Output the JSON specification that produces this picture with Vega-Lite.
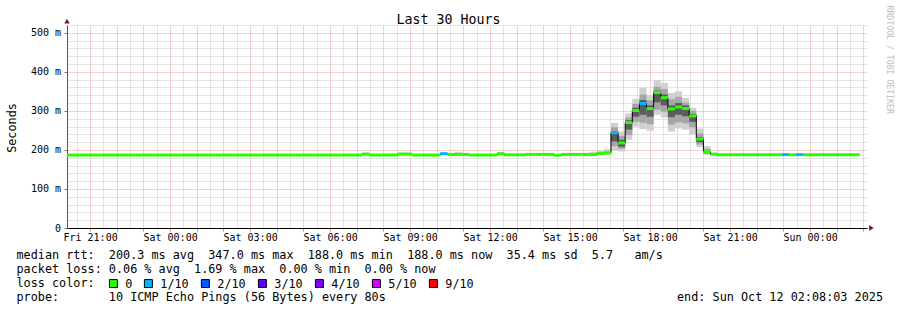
{
  "$schema": "https://vega.github.io/schema/vega-lite/v6.json",
  "width": 800,
  "height": 203,
  "autosize": {"type": "none"},
  "padding": {"left": 67, "top": 25, "right": 30, "bottom": 82},
  "background": "#ffffff",
  "config": {"view": {"stroke": null}, "font": "DejaVu Sans Mono"},
  "title": {
    "text": "Last 30 Hours",
    "font": "DejaVu Sans Mono",
    "fontSize": 13.3,
    "fontWeight": "normal",
    "color": "#000000",
    "anchor": "middle",
    "frame": "group",
    "dx": -18.5,
    "baseline": "alphabetic",
    "offset": -32
  },
  "datasets": {
    "median": [
      {"t0": "2025-10-10T20:08:03", "t1": "2025-10-11T07:12:00", "rtt": 187, "loss": "0"},
      {"t0": "2025-10-11T07:12:00", "t1": "2025-10-11T07:28:00", "rtt": 189.5, "loss": "0"},
      {"t0": "2025-10-11T07:28:00", "t1": "2025-10-11T08:32:00", "rtt": 187, "loss": "0"},
      {"t0": "2025-10-11T08:32:00", "t1": "2025-10-11T09:04:00", "rtt": 189.5, "loss": "0"},
      {"t0": "2025-10-11T09:04:00", "t1": "2025-10-11T10:08:00", "rtt": 187, "loss": "0"},
      {"t0": "2025-10-11T10:08:00", "t1": "2025-10-11T10:24:00", "rtt": 190.5, "loss": "1/10"},
      {"t0": "2025-10-11T10:24:00", "t1": "2025-10-11T11:12:00", "rtt": 188.5, "loss": "0"},
      {"t0": "2025-10-11T11:12:00", "t1": "2025-10-11T12:16:00", "rtt": 187, "loss": "0"},
      {"t0": "2025-10-11T12:16:00", "t1": "2025-10-11T12:32:00", "rtt": 190.5, "loss": "0"},
      {"t0": "2025-10-11T12:32:00", "t1": "2025-10-11T13:20:00", "rtt": 187.5, "loss": "0"},
      {"t0": "2025-10-11T13:20:00", "t1": "2025-10-11T14:24:00", "rtt": 188.5, "loss": "0"},
      {"t0": "2025-10-11T14:24:00", "t1": "2025-10-11T14:40:00", "rtt": 186.5, "loss": "0"},
      {"t0": "2025-10-11T14:40:00", "t1": "2025-10-11T15:44:00", "rtt": 188.5, "loss": "0"},
      {"t0": "2025-10-11T15:44:00", "t1": "2025-10-11T16:00:00", "rtt": 188, "loss": "0"},
      {"t0": "2025-10-11T16:00:00", "t1": "2025-10-11T16:16:00", "rtt": 191, "loss": "0"},
      {"t0": "2025-10-11T16:16:00", "t1": "2025-10-11T16:32:00", "rtt": 192, "loss": "0"},
      {"t0": "2025-10-11T16:32:00", "t1": "2025-10-11T16:48:00", "rtt": 244, "loss": "1/10"},
      {"t0": "2025-10-11T16:48:00", "t1": "2025-10-11T17:04:00", "rtt": 218, "loss": "0"},
      {"t0": "2025-10-11T17:04:00", "t1": "2025-10-11T17:20:00", "rtt": 270, "loss": "0"},
      {"t0": "2025-10-11T17:20:00", "t1": "2025-10-11T17:36:00", "rtt": 301, "loss": "0"},
      {"t0": "2025-10-11T17:36:00", "t1": "2025-10-11T17:52:00", "rtt": 319, "loss": "1/10"},
      {"t0": "2025-10-11T17:52:00", "t1": "2025-10-11T18:08:00", "rtt": 306, "loss": "0"},
      {"t0": "2025-10-11T18:08:00", "t1": "2025-10-11T18:24:00", "rtt": 347, "loss": "0"},
      {"t0": "2025-10-11T18:24:00", "t1": "2025-10-11T18:40:00", "rtt": 334, "loss": "0"},
      {"t0": "2025-10-11T18:40:00", "t1": "2025-10-11T18:56:00", "rtt": 305, "loss": "0"},
      {"t0": "2025-10-11T18:56:00", "t1": "2025-10-11T19:12:00", "rtt": 310, "loss": "0"},
      {"t0": "2025-10-11T19:12:00", "t1": "2025-10-11T19:28:00", "rtt": 306, "loss": "0"},
      {"t0": "2025-10-11T19:28:00", "t1": "2025-10-11T19:44:00", "rtt": 287, "loss": "0"},
      {"t0": "2025-10-11T19:44:00", "t1": "2025-10-11T20:00:00", "rtt": 228, "loss": "0"},
      {"t0": "2025-10-11T20:00:00", "t1": "2025-10-11T20:16:00", "rtt": 195, "loss": "0"},
      {"t0": "2025-10-11T20:16:00", "t1": "2025-10-11T20:32:00", "rtt": 189, "loss": "0"},
      {"t0": "2025-10-11T20:32:00", "t1": "2025-10-11T22:56:00", "rtt": 187.5, "loss": "0"},
      {"t0": "2025-10-11T22:56:00", "t1": "2025-10-11T23:12:00", "rtt": 188, "loss": "1/10"},
      {"t0": "2025-10-11T23:12:00", "t1": "2025-10-11T23:28:00", "rtt": 187.5, "loss": "0"},
      {"t0": "2025-10-11T23:28:00", "t1": "2025-10-11T23:44:00", "rtt": 188, "loss": "1/10"},
      {"t0": "2025-10-11T23:44:00", "t1": "2025-10-12T01:52:00", "rtt": 187.5, "loss": "0"}
    ],
    "smoke": [
      {"t0": "2025-10-11T10:40:00", "t1": "2025-10-11T10:56:00", "lo": 188, "hi": 195, "band": "outer"},
      {"t0": "2025-10-11T15:44:00", "t1": "2025-10-11T16:00:00", "lo": 188, "hi": 195, "band": "outer"},
      {"t0": "2025-10-11T16:00:00", "t1": "2025-10-11T16:16:00", "lo": 188, "hi": 198, "band": "outer"},
      {"t0": "2025-10-11T16:16:00", "t1": "2025-10-11T16:32:00", "lo": 189, "hi": 202, "band": "outer"},
      {"t0": "2025-10-11T16:32:00", "t1": "2025-10-11T16:48:00", "lo": 198, "hi": 269, "band": "outer"},
      {"t0": "2025-10-11T16:48:00", "t1": "2025-10-11T17:04:00", "lo": 196, "hi": 247, "band": "outer"},
      {"t0": "2025-10-11T17:04:00", "t1": "2025-10-11T17:20:00", "lo": 226, "hi": 294, "band": "outer"},
      {"t0": "2025-10-11T17:20:00", "t1": "2025-10-11T17:36:00", "lo": 260, "hi": 331, "band": "outer"},
      {"t0": "2025-10-11T17:36:00", "t1": "2025-10-11T17:52:00", "lo": 253, "hi": 359, "band": "outer"},
      {"t0": "2025-10-11T17:52:00", "t1": "2025-10-11T18:08:00", "lo": 249, "hi": 340, "band": "outer"},
      {"t0": "2025-10-11T18:08:00", "t1": "2025-10-11T18:24:00", "lo": 290, "hi": 379, "band": "outer"},
      {"t0": "2025-10-11T18:24:00", "t1": "2025-10-11T18:40:00", "lo": 283, "hi": 372, "band": "outer"},
      {"t0": "2025-10-11T18:40:00", "t1": "2025-10-11T18:56:00", "lo": 247, "hi": 346, "band": "outer"},
      {"t0": "2025-10-11T18:56:00", "t1": "2025-10-11T19:12:00", "lo": 255, "hi": 350, "band": "outer"},
      {"t0": "2025-10-11T19:12:00", "t1": "2025-10-11T19:28:00", "lo": 252, "hi": 333, "band": "outer"},
      {"t0": "2025-10-11T19:28:00", "t1": "2025-10-11T19:44:00", "lo": 240, "hi": 308, "band": "outer"},
      {"t0": "2025-10-11T19:44:00", "t1": "2025-10-11T20:00:00", "lo": 207, "hi": 255, "band": "outer"},
      {"t0": "2025-10-11T20:00:00", "t1": "2025-10-11T20:16:00", "lo": 187, "hi": 210, "band": "outer"},
      {"t0": "2025-10-11T20:16:00", "t1": "2025-10-11T20:32:00", "lo": 187, "hi": 193, "band": "outer"},
      {"t0": "2025-10-11T16:16:00", "t1": "2025-10-11T16:32:00", "lo": 190, "hi": 196, "band": "middle"},
      {"t0": "2025-10-11T16:32:00", "t1": "2025-10-11T16:48:00", "lo": 210, "hi": 258, "band": "middle"},
      {"t0": "2025-10-11T16:48:00", "t1": "2025-10-11T17:04:00", "lo": 203, "hi": 236, "band": "middle"},
      {"t0": "2025-10-11T17:04:00", "t1": "2025-10-11T17:20:00", "lo": 238, "hi": 283, "band": "middle"},
      {"t0": "2025-10-11T17:20:00", "t1": "2025-10-11T17:36:00", "lo": 272, "hi": 318, "band": "middle"},
      {"t0": "2025-10-11T17:36:00", "t1": "2025-10-11T17:52:00", "lo": 270, "hi": 342, "band": "middle"},
      {"t0": "2025-10-11T17:52:00", "t1": "2025-10-11T18:08:00", "lo": 266, "hi": 327, "band": "middle"},
      {"t0": "2025-10-11T18:08:00", "t1": "2025-10-11T18:24:00", "lo": 303, "hi": 362, "band": "middle"},
      {"t0": "2025-10-11T18:24:00", "t1": "2025-10-11T18:40:00", "lo": 298, "hi": 356, "band": "middle"},
      {"t0": "2025-10-11T18:40:00", "t1": "2025-10-11T18:56:00", "lo": 265, "hi": 330, "band": "middle"},
      {"t0": "2025-10-11T18:56:00", "t1": "2025-10-11T19:12:00", "lo": 271, "hi": 336, "band": "middle"},
      {"t0": "2025-10-11T19:12:00", "t1": "2025-10-11T19:28:00", "lo": 268, "hi": 321, "band": "middle"},
      {"t0": "2025-10-11T19:28:00", "t1": "2025-10-11T19:44:00", "lo": 258, "hi": 300, "band": "middle"},
      {"t0": "2025-10-11T19:44:00", "t1": "2025-10-11T20:00:00", "lo": 214, "hi": 242, "band": "middle"},
      {"t0": "2025-10-11T20:00:00", "t1": "2025-10-11T20:16:00", "lo": 190, "hi": 203, "band": "middle"},
      {"t0": "2025-10-11T16:32:00", "t1": "2025-10-11T16:48:00", "lo": 222, "hi": 248, "band": "inner"},
      {"t0": "2025-10-11T16:48:00", "t1": "2025-10-11T17:04:00", "lo": 208, "hi": 226, "band": "inner"},
      {"t0": "2025-10-11T17:04:00", "t1": "2025-10-11T17:20:00", "lo": 252, "hi": 276, "band": "inner"},
      {"t0": "2025-10-11T17:20:00", "t1": "2025-10-11T17:36:00", "lo": 285, "hi": 308, "band": "inner"},
      {"t0": "2025-10-11T17:36:00", "t1": "2025-10-11T17:52:00", "lo": 290, "hi": 328, "band": "inner"},
      {"t0": "2025-10-11T17:52:00", "t1": "2025-10-11T18:08:00", "lo": 285, "hi": 314, "band": "inner"},
      {"t0": "2025-10-11T18:08:00", "t1": "2025-10-11T18:24:00", "lo": 322, "hi": 352, "band": "inner"},
      {"t0": "2025-10-11T18:24:00", "t1": "2025-10-11T18:40:00", "lo": 314, "hi": 342, "band": "inner"},
      {"t0": "2025-10-11T18:40:00", "t1": "2025-10-11T18:56:00", "lo": 284, "hi": 314, "band": "inner"},
      {"t0": "2025-10-11T18:56:00", "t1": "2025-10-11T19:12:00", "lo": 290, "hi": 320, "band": "inner"},
      {"t0": "2025-10-11T19:12:00", "t1": "2025-10-11T19:28:00", "lo": 286, "hi": 314, "band": "inner"},
      {"t0": "2025-10-11T19:28:00", "t1": "2025-10-11T19:44:00", "lo": 272, "hi": 292, "band": "inner"},
      {"t0": "2025-10-11T19:44:00", "t1": "2025-10-11T20:00:00", "lo": 220, "hi": 233, "band": "inner"}
    ]
  },
  "layer": [
    {
      "data": {"name": "smoke"},
      "mark": {"type": "rect"},
      "encoding": {
        "x": {
          "field": "t0",
          "type": "temporal",
          "scale": {
            "domain": [
              {"year": 2025, "month": 10, "date": 10, "hours": 20, "minutes": 8, "seconds": 3},
              {"year": 2025, "month": 10, "date": 12, "hours": 2, "minutes": 8, "seconds": 3}
            ],
            "nice": false
          },
          "axis": {
            "orient": "bottom",
            "values": [
              {"year": 2025, "month": 10, "date": 10, "hours": 21},
              {"year": 2025, "month": 10, "date": 10, "hours": 22},
              {"year": 2025, "month": 10, "date": 10, "hours": 23},
              {"year": 2025, "month": 10, "date": 11, "hours": 0},
              {"year": 2025, "month": 10, "date": 11, "hours": 1},
              {"year": 2025, "month": 10, "date": 11, "hours": 2},
              {"year": 2025, "month": 10, "date": 11, "hours": 3},
              {"year": 2025, "month": 10, "date": 11, "hours": 4},
              {"year": 2025, "month": 10, "date": 11, "hours": 5},
              {"year": 2025, "month": 10, "date": 11, "hours": 6},
              {"year": 2025, "month": 10, "date": 11, "hours": 7},
              {"year": 2025, "month": 10, "date": 11, "hours": 8},
              {"year": 2025, "month": 10, "date": 11, "hours": 9},
              {"year": 2025, "month": 10, "date": 11, "hours": 10},
              {"year": 2025, "month": 10, "date": 11, "hours": 11},
              {"year": 2025, "month": 10, "date": 11, "hours": 12},
              {"year": 2025, "month": 10, "date": 11, "hours": 13},
              {"year": 2025, "month": 10, "date": 11, "hours": 14},
              {"year": 2025, "month": 10, "date": 11, "hours": 15},
              {"year": 2025, "month": 10, "date": 11, "hours": 16},
              {"year": 2025, "month": 10, "date": 11, "hours": 17},
              {"year": 2025, "month": 10, "date": 11, "hours": 18},
              {"year": 2025, "month": 10, "date": 11, "hours": 19},
              {"year": 2025, "month": 10, "date": 11, "hours": 20},
              {"year": 2025, "month": 10, "date": 11, "hours": 21},
              {"year": 2025, "month": 10, "date": 11, "hours": 22},
              {"year": 2025, "month": 10, "date": 11, "hours": 23},
              {"year": 2025, "month": 10, "date": 12, "hours": 0},
              {"year": 2025, "month": 10, "date": 12, "hours": 1},
              {"year": 2025, "month": 10, "date": 12, "hours": 2}
            ],
            "labelExpr": "hours(datum.value) % 3 == 0 ? timeFormat(datum.value, '%a %H:%M') : ''",
            "labelOverlap": false,
            "labelFlush": false,
            "labelBound": false,
            "labelFont": "DejaVu Sans Mono",
            "labelFontSize": 10,
            "labelColor": "#000000",
            "labelPadding": 1,
            "labelBaseline": "top",
            "labelAngle": 0,
            "grid": true,
            "gridColor": "#f2a0a0",
            "gridDash": [1, 1],
            "gridWidth": 1,
            "gridOpacity": 1,
            "ticks": true,
            "tickColor": "#e08080",
            "tickSize": 3,
            "tickWidth": 1,
            "domain": true,
            "domainColor": "#000000",
            "domainWidth": 1,
            "title": [
              "median rtt:\u00a0\u00a0200.3 ms avg\u00a0\u00a0347.0 ms max\u00a0\u00a0188.0 ms min\u00a0\u00a0188.0 ms now\u00a0\u00a035.4 ms sd\u00a0\u00a05.7\u00a0\u00a0\u00a0am/s",
              "packet loss: 0.06 % avg\u00a0\u00a01.69 % max\u00a0\u00a00.00 % min\u00a0\u00a00.00 % now",
              "loss color:",
              "probe:\u00a0\u00a0\u00a0\u00a0\u00a0\u00a0\u00a010 ICMP Echo Pings (56 Bytes) every 80s\u00a0\u00a0\u00a0\u00a0\u00a0\u00a0\u00a0\u00a0\u00a0\u00a0\u00a0\u00a0\u00a0\u00a0\u00a0\u00a0\u00a0\u00a0\u00a0\u00a0\u00a0\u00a0\u00a0\u00a0\u00a0\u00a0\u00a0\u00a0\u00a0\u00a0\u00a0\u00a0\u00a0\u00a0\u00a0\u00a0\u00a0\u00a0\u00a0\u00a0\u00a0end: Sun Oct 12 02:08:03 2025"
            ],
            "titleFont": "DejaVu Sans Mono",
            "titleFontSize": 11.8,
            "titleFontWeight": "normal",
            "titleColor": "#000000",
            "titleAlign": "left",
            "titleBaseline": "alphabetic",
            "titleAngle": 0,
            "titleX": -51,
            "titleY": 30.5,
            "titleLineHeight": 14
          }
        },
        "x2": {"field": "t1"},
        "y": {
          "field": "lo",
          "type": "quantitative",
          "scale": {"domain": [0, 520], "nice": false, "zero": false},
          "axis": {
            "orient": "left",
            "values": [0, 100, 200, 300, 400, 500],
            "labelExpr": "datum.value == 0 ? '0\u00a0\u00a0' : datum.value + ' m'",
            "labelFont": "DejaVu Sans Mono",
            "labelFontSize": 10,
            "labelColor": "#000000",
            "labelPadding": 3.5,
            "labelBaseline": "middle",
            "grid": true,
            "gridColor": "#f2a0a0",
            "gridDash": [1, 1],
            "gridWidth": 1,
            "gridOpacity": 1,
            "ticks": true,
            "tickColor": "#777777",
            "tickSize": 3,
            "domain": true,
            "domainColor": "#555555",
            "title": "Seconds",
            "titleFont": "DejaVu Sans Mono",
            "titleFontSize": 11.8,
            "titleFontWeight": "normal",
            "titleColor": "#000000",
            "titleAngle": -90,
            "titleAlign": "center",
            "titleBaseline": "alphabetic",
            "titleX": -52,
            "titleY": 102.5
          }
        },
        "y2": {"field": "hi"},
        "fill": {
          "field": "band",
          "type": "nominal",
          "scale": {"domain": ["outer", "middle", "inner"], "range": ["#d0d0d0", "#a6a6a6", "#5c5c5c"]},
          "legend": null
        }
      }
    },
    {
      "data": {"name": "median"},
      "mark": {"type": "line", "interpolate": "step-after", "color": "#000000", "strokeWidth": 1},
      "encoding": {
        "x": {
          "field": "t0",
          "type": "temporal",
          "axis": {
            "orient": "top",
            "values": [
              {"year": 2025, "month": 10, "date": 10, "hours": 20, "minutes": 30},
              {"year": 2025, "month": 10, "date": 10, "hours": 21, "minutes": 30},
              {"year": 2025, "month": 10, "date": 10, "hours": 22, "minutes": 30},
              {"year": 2025, "month": 10, "date": 10, "hours": 23, "minutes": 30},
              {"year": 2025, "month": 10, "date": 11, "hours": 0, "minutes": 30},
              {"year": 2025, "month": 10, "date": 11, "hours": 1, "minutes": 30},
              {"year": 2025, "month": 10, "date": 11, "hours": 2, "minutes": 30},
              {"year": 2025, "month": 10, "date": 11, "hours": 3, "minutes": 30},
              {"year": 2025, "month": 10, "date": 11, "hours": 4, "minutes": 30},
              {"year": 2025, "month": 10, "date": 11, "hours": 5, "minutes": 30},
              {"year": 2025, "month": 10, "date": 11, "hours": 6, "minutes": 30},
              {"year": 2025, "month": 10, "date": 11, "hours": 7, "minutes": 30},
              {"year": 2025, "month": 10, "date": 11, "hours": 8, "minutes": 30},
              {"year": 2025, "month": 10, "date": 11, "hours": 9, "minutes": 30},
              {"year": 2025, "month": 10, "date": 11, "hours": 10, "minutes": 30},
              {"year": 2025, "month": 10, "date": 11, "hours": 11, "minutes": 30},
              {"year": 2025, "month": 10, "date": 11, "hours": 12, "minutes": 30},
              {"year": 2025, "month": 10, "date": 11, "hours": 13, "minutes": 30},
              {"year": 2025, "month": 10, "date": 11, "hours": 14, "minutes": 30},
              {"year": 2025, "month": 10, "date": 11, "hours": 15, "minutes": 30},
              {"year": 2025, "month": 10, "date": 11, "hours": 16, "minutes": 30},
              {"year": 2025, "month": 10, "date": 11, "hours": 17, "minutes": 30},
              {"year": 2025, "month": 10, "date": 11, "hours": 18, "minutes": 30},
              {"year": 2025, "month": 10, "date": 11, "hours": 19, "minutes": 30},
              {"year": 2025, "month": 10, "date": 11, "hours": 20, "minutes": 30},
              {"year": 2025, "month": 10, "date": 11, "hours": 21, "minutes": 30},
              {"year": 2025, "month": 10, "date": 11, "hours": 22, "minutes": 30},
              {"year": 2025, "month": 10, "date": 11, "hours": 23, "minutes": 30},
              {"year": 2025, "month": 10, "date": 12, "hours": 0, "minutes": 30},
              {"year": 2025, "month": 10, "date": 12, "hours": 1, "minutes": 30}
            ],
            "labels": false,
            "ticks": false,
            "domain": false,
            "grid": true,
            "gridColor": "#c8c8c8",
            "gridDash": [1, 1],
            "gridWidth": 1,
            "gridOpacity": 1,
            "title": null
          }
        },
        "y": {
          "field": "rtt",
          "type": "quantitative",
          "axis": {
            "orient": "right",
            "values": [20, 40, 60, 80, 120, 140, 160, 180, 220, 240, 260, 280, 320, 340, 360, 380, 420, 440, 460, 480, 520],
            "labels": false,
            "ticks": false,
            "domain": false,
            "grid": true,
            "gridColor": "#c8c8c8",
            "gridDash": [1, 1],
            "gridWidth": 1,
            "gridOpacity": 1,
            "title": "RRDTOOL / TOBI OETIKER",
            "titleFont": "DejaVu Sans Mono",
            "titleFontSize": 8.2,
            "titleFontWeight": "normal",
            "titleColor": "#bdbdbd",
            "titleAngle": 90,
            "titleAlign": "left",
            "titleBaseline": "middle",
            "titleX": 21.3,
            "titleY": -20
          }
        }
      }
    },
    {
      "data": {"name": "median"},
      "mark": {"type": "rect", "yOffset": -1.5, "y2Offset": 1.5},
      "encoding": {
        "x": {"field": "t0", "type": "temporal", "axis": null},
        "x2": {"field": "t1"},
        "y": {"field": "rtt", "type": "quantitative", "axis": null},
        "y2": {"field": "rtt"},
        "color": {
          "field": "loss",
          "type": "nominal",
          "scale": {
            "domain": ["0", "1/10", "2/10", "3/10", "4/10", "5/10", "9/10"],
            "range": ["#26ff00", "#00b8ff", "#0059ff", "#5e00ff", "#7e00ff", "#dd00ff", "#ff0000"]
          },
          "legend": {
            "orient": "none",
            "legendX": 40.5,
            "legendY": 252.5,
            "direction": "horizontal",
            "title": null,
            "labelFont": "DejaVu Sans Mono",
            "labelFontSize": 11.8,
            "labelColor": "#000000",
            "labelOffset": 6,
            "columnPadding": 9,
            "symbolType": "square",
            "symbolSize": 64,
            "symbolStrokeColor": "#000000",
            "symbolStrokeWidth": 1,
            "symbolOpacity": 1,
            "padding": 0,
            "labelLimit": 100
          }
        }
      }
    },
    {
      "data": {"values": [{"arrow": "y axis"}]},
      "mark": {"type": "point", "shape": "triangle-up", "filled": true, "color": "#801010", "size": 28, "opacity": 1},
      "encoding": {
        "x": {"datum": {"year": 2025, "month": 10, "date": 10, "hours": 20, "minutes": 8, "seconds": 3}, "type": "temporal", "axis": null},
        "y": {"datum": 530, "type": "quantitative", "axis": null}
      }
    },
    {
      "data": {"values": [{"arrow": "x axis"}]},
      "mark": {"type": "point", "shape": "triangle-right", "filled": true, "color": "#801010", "size": 28, "opacity": 1},
      "encoding": {
        "x": {"datum": {"year": 2025, "month": 10, "date": 12, "hours": 2, "minutes": 18}, "type": "temporal", "axis": null},
        "y": {"datum": 0, "type": "quantitative", "axis": null}
      }
    }
  ],
  "resolve": {"axis": {"x": "independent", "y": "independent"}}
}
